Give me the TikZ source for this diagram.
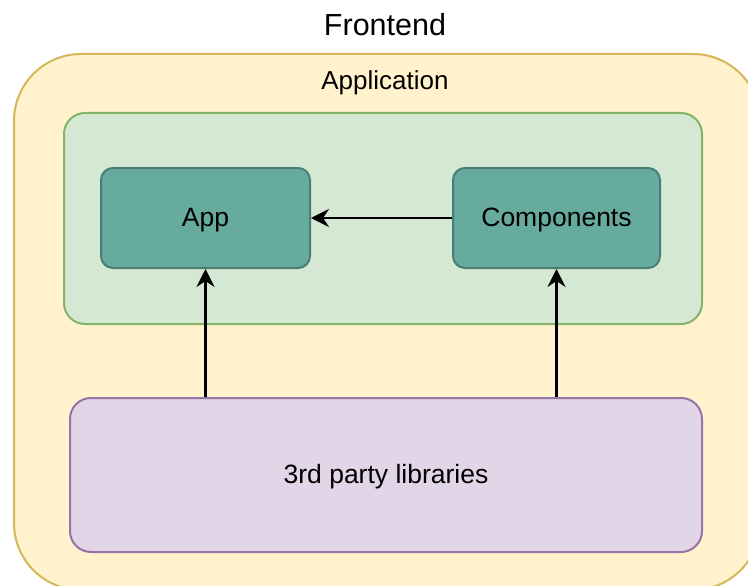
\documentclass[tikz,border=0pt]{standalone}
\usepackage{fontspec}
\setmainfont{Liberation Sans}
\usetikzlibrary{arrows.meta}

\definecolor{feFill}{HTML}{FFF2CC}
\definecolor{feLine}{HTML}{D6B656}
\definecolor{apFill}{HTML}{D5E8D4}
\definecolor{apLine}{HTML}{82B366}
\definecolor{libFill}{HTML}{E1D5E7}
\definecolor{libLine}{HTML}{9673A6}
\definecolor{modFill}{HTML}{67AB9F}
\definecolor{modLine}{HTML}{4A7D74}

\tikzset{
  box/.style={draw, line width=2pt, inner sep=0pt, anchor=north west},
  modbox/.style={box, fill=modFill, draw=modLine, rounded corners=12pt,
    minimum width=209pt, minimum height=100pt},
  dep/.style={line width=2.2pt, -{Stealth[length=18pt, width=18pt, inset=6pt]}},
  label/.style={font=\fontsize{26.5}{31}\selectfont, inner sep=0pt, yshift=-2pt}
}

\begin{document}
\begin{tikzpicture}[x=1pt, y=-1pt]
  \useasboundingbox (0,0) rectangle (748,586);
  \clip (0,0) rectangle (748,586);

  % frontend container
  \node[box, fill=feFill, draw=feLine, rounded corners=67pt,
        minimum width=746pt, minimum height=536pt] (frontend) at (13,53) {};
  \node[label, font=\fontsize{30.5}{36}\selectfont] (frontendTitle) at (385,23) {Frontend};

  % application container
  \node[label, font=\fontsize{26}{31}\selectfont] (appTitle) at (385,81) {Application};
  \node[box, fill=apFill, draw=apLine, rounded corners=21pt,
        minimum width=638pt, minimum height=211pt] (application) at (63,112) {};

  % modules
  \node[modbox] (app) at (100,167) {};
  \node[label] at (app.center) {App};
  \node[modbox, minimum width=207pt] (components) at (452,167) {};
  \node[label] at (components.center) {Components};

  % libraries
  \node[box, fill=libFill, draw=libLine, rounded corners=21pt,
        minimum width=632pt, minimum height=154pt] (libs) at (69,397) {};
  \node[label] at (libs.center) {3rd party libraries};

  % dependencies
  \draw[dep] (components.west) -- (app.east);
  \draw[dep] (libs.north -| app.south) -- (app.south);
  \draw[dep] (libs.north -| components.south) -- (components.south);
\end{tikzpicture}
\end{document}
